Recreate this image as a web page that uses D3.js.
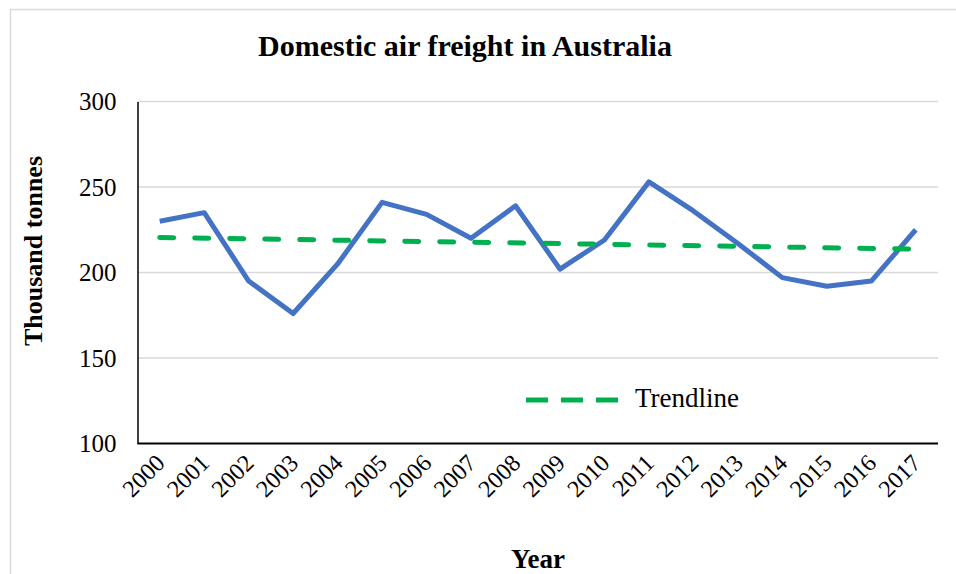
<!DOCTYPE html>
<html>
<head>
<meta charset="utf-8">
<script src="https://cdn.jsdelivr.net/npm/d3@7"></script>
<style>
    body { margin: 0; background: #fff; }
    svg { display: block; font-family: "Liberation Serif", "Times New Roman", serif; }
</style>
</head>
<body>
<svg id="svg" width="956" height="574"></svg>
<script>
// chart data
var years = ['2000', '2001', '2002', '2003', '2004', '2005', '2006', '2007', '2008',
    '2009', '2010', '2011', '2012', '2013', '2014', '2015', '2016', '2017'];
var freight = [230, 235, 195, 176, 205, 241, 234, 220, 239,
    202, 219, 253, 236, 217, 197, 192, 195, 225];
var trendYears = ['2000', '2017'];
var trendValues = [220.5, 213.7];
var yTicks = [100, 150, 200, 250, 300];

var plot = {left: 137.5, right: 938, top: 101.5, bottom: 443.5},
    serif = '"Liberation Serif", "Times New Roman", serif';

var $svg = d3.select('#svg');

// outer chart border
$svg.append('rect')
    .attr('x', 10.5).attr('y', 9.5)
    .attr('width', 960).attr('height', 580)
    .attr('fill', 'none')
    .attr('stroke', '#d9d9d9')
    .attr('stroke-width', 1.5);

var x = d3.scalePoint()
    .domain(years)
    .range([plot.left, plot.right])
    .padding(0.5);

var y = d3.scaleLinear()
    .domain([100, 300])
    .range([plot.bottom, plot.top]);

// gridlines
$svg.append('g')
    .attr('class', 'grid')
    .selectAll('line')
    .data(yTicks.slice(1))
    .enter()
    .append('line')
    .attr('x1', plot.left).attr('x2', plot.right)
    .attr('y1', function (d) { return y(d); })
    .attr('y2', function (d) { return y(d); })
    .attr('stroke', '#d9d9d9')
    .attr('stroke-width', 1.5);

// y axis
var yAxis = $svg.append('g')
    .attr('transform', 'translate(' + plot.left + ',0)')
    .call(d3.axisLeft(y).tickValues(yTicks).tickSize(0).tickPadding(21));
yAxis.select('.domain').attr('stroke', '#000').attr('stroke-width', 1.5);
yAxis.selectAll('text')
    .attr('font-family', serif)
    .attr('font-size', 25)
    .attr('fill', '#000');

// x axis
var xAxis = $svg.append('g')
    .attr('transform', 'translate(0,' + plot.bottom + ')')
    .call(d3.axisBottom(x).tickSize(0));
xAxis.select('.domain')
    .attr('d', 'M' + plot.left + ',0H' + plot.right)
    .attr('stroke', '#000').attr('stroke-width', 2);
xAxis.selectAll('text')
    .attr('font-family', serif)
    .attr('font-size', 24)
    .attr('fill', '#000')
    .attr('text-anchor', 'end')
    .attr('y', 0)
    .attr('dy', 0)
    .attr('transform', 'translate(6,21) rotate(-45)');

// data line
var line = d3.line()
    .x(function (d) { return x(d.year); })
    .y(function (d) { return y(d.value); });

$svg.append('path')
    .datum(years.map(function (yr, i) { return {year: yr, value: freight[i]}; }))
    .attr('d', line)
    .attr('fill', 'none')
    .attr('stroke', '#4472c4')
    .attr('stroke-width', 5)
    .attr('stroke-linejoin', 'round');

// trendline
$svg.append('path')
    .datum(trendYears.map(function (yr, i) { return {year: yr, value: trendValues[i]}; }))
    .attr('d', line)
    .attr('fill', 'none')
    .attr('stroke', '#00b050')
    .attr('stroke-width', 5)
    .attr('stroke-linecap', 'round')
    .attr('stroke-dasharray', '14,21');

// legend
var $legend = $svg.append('g').attr('transform', 'translate(526,400)');
$legend.append('line')
    .attr('x1', 0).attr('x2', 92)
    .attr('stroke', '#00b050')
    .attr('stroke-width', 5)
    .attr('stroke-dasharray', '22,13');
$legend.append('text')
    .attr('x', 109).attr('y', 7)
    .attr('font-size', 27)
    .text('Trendline');

// titles
$svg.append('text')
    .attr('x', 465).attr('y', 56)
    .attr('text-anchor', 'middle')
    .attr('font-size', 30)
    .attr('font-weight', 'bold')
    .text('Domestic air freight in Australia');

$svg.append('text')
    .attr('transform', 'translate(42,251) rotate(-90)')
    .attr('text-anchor', 'middle')
    .attr('font-size', 26)
    .attr('font-weight', 'bold')
    .text('Thousand tonnes');

$svg.append('text')
    .attr('x', 538).attr('y', 568)
    .attr('text-anchor', 'middle')
    .attr('font-size', 27)
    .attr('font-weight', 'bold')
    .text('Year');
</script>
</body>
</html>
